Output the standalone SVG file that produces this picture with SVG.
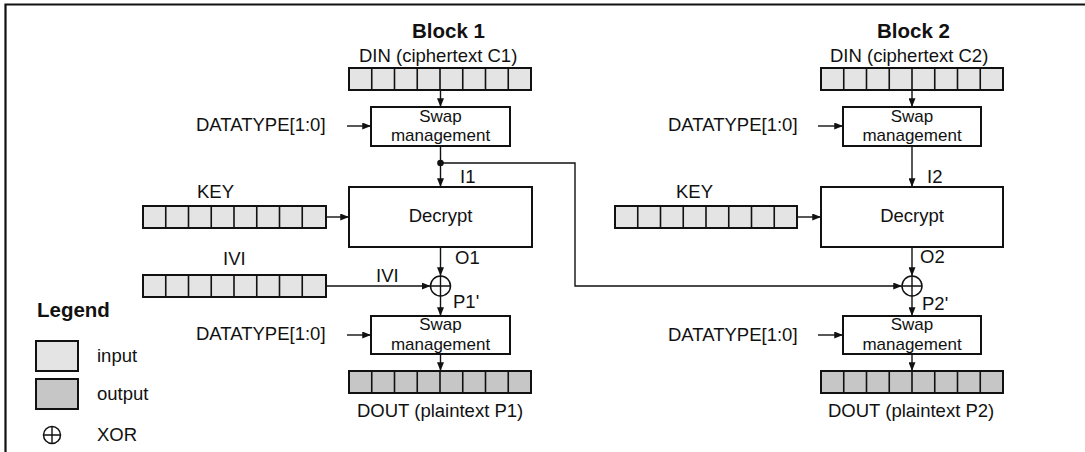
<svg xmlns="http://www.w3.org/2000/svg" xmlns:xlink="http://www.w3.org/1999/xlink" width="1085" height="452" viewBox="0 0 1085 452">
<style>
text{font-family:"Liberation Sans",Arial,sans-serif;font-size:18.5px;fill:#111}
.b{font-weight:bold;font-size:20.5px}
.m{text-anchor:middle}
.s{font-size:17px}
.box{fill:#fff;stroke:#111;stroke-width:2}
.in{fill:#e4e4e4;stroke:#111;stroke-width:2}
.out{fill:#c6c6c6;stroke:#111;stroke-width:2}
.div{stroke:#111;stroke-width:1.6}
.c{fill:none;stroke:#111;stroke-width:1.4}
.x{fill:#fff;stroke:#111;stroke-width:1.5}
</style>
<defs>
<marker id="ah" viewBox="0 0 10 8" refX="10" refY="4" markerWidth="9" markerHeight="7" orient="auto" markerUnits="userSpaceOnUse"><path d="M0,0 L10,4 L0,8 z" fill="#111"/></marker>
<g id="cells"><path class="div" d="M22.75,0V22M45.5,0V22M68.25,0V22M91,0V22M113.75,0V22M136.5,0V22M159.25,0V22"/></g>
</defs>
<rect width="1085" height="452" fill="#fff"/>
<path d="M5.5,452V4.5H1085" fill="none" stroke="#111" stroke-width="2.2"/>

<g id="connectors">
<path class="c" marker-end="url(#ah)" d="M440.5,90V107"/>
<path class="c" marker-end="url(#ah)" d="M347,126H371"/>
<path class="c" marker-end="url(#ah)" d="M440.5,146V187"/>
<path class="c" marker-end="url(#ah)" d="M440.5,163H575V286H902"/>
<circle cx="440.5" cy="163" r="3.3" fill="#111"/>
<path class="c" marker-end="url(#ah)" d="M326,217H349"/>
<path class="c" marker-end="url(#ah)" d="M440.5,247V276"/>
<path class="c" marker-end="url(#ah)" d="M326,286H430.5"/>
<path class="c" marker-end="url(#ah)" d="M440.5,296V316"/>
<path class="c" marker-end="url(#ah)" d="M347,335H371"/>
<path class="c" marker-end="url(#ah)" d="M440.5,354V371"/>

<path class="c" marker-end="url(#ah)" d="M912,90V107"/>
<path class="c" marker-end="url(#ah)" d="M818,126H843"/>
<path class="c" marker-end="url(#ah)" d="M912,146V187"/>
<path class="c" marker-end="url(#ah)" d="M797,217H821"/>
<path class="c" marker-end="url(#ah)" d="M912,247V276"/>
<path class="c" marker-end="url(#ah)" d="M912,296V316"/>
<path class="c" marker-end="url(#ah)" d="M818,335H843"/>
<path class="c" marker-end="url(#ah)" d="M912,354V371"/>
</g>

<g id="block1">
<text class="b" x="412" y="38">Block 1</text>
<text x="359" y="62">DIN (ciphertext C1)</text>
</g>
<g id="din1"><rect class="in" x="349" y="68" width="182" height="22"/><use xlink:href="#cells" x="349" y="68"/></g>
<g id="swap1a"><rect class="box" x="371" y="107" width="139" height="39"/><text class="m s" x="440.5" y="121.5">Swap</text><text class="m s" x="440.5" y="141">management</text></g>
<g id="dt1a"><text x="196" y="131">DATATYPE[1:0]</text></g>
<g id="i1"><text x="460" y="183">I1</text></g>
<g id="key1"><text x="197" y="198">KEY</text><rect class="in" x="143" y="206" width="183" height="22"/><use xlink:href="#cells" x="143" y="206"/></g>
<g id="dec1"><rect class="box" x="349" y="187" width="183" height="60"/><text class="m" x="440.5" y="222">Decrypt</text></g>
<g id="ivi1"><text x="223" y="265">IVI</text><rect class="in" x="143" y="275" width="183" height="22"/><use xlink:href="#cells" x="143" y="275"/><text x="376" y="282">IVI</text></g>
<g id="xor1"><circle class="x" cx="440.5" cy="286" r="10"/><path class="c" d="M430.5,286H450.5M440.5,276V296"/><text x="455" y="264">O1</text><text x="453" y="308">P1'</text></g>
<g id="swap1b"><rect class="box" x="371" y="316" width="139" height="38"/><text class="m s" x="440.5" y="330">Swap</text><text class="m s" x="440.5" y="349.5">management</text></g>
<g id="dt1b"><text x="196" y="340">DATATYPE[1:0]</text></g>
<g id="dout1"><rect class="out" x="349" y="371" width="182" height="22"/><use xlink:href="#cells" x="349" y="371"/><text x="357" y="417">DOUT (plaintext P1)</text></g>

<g id="block2">
<text class="b" x="877" y="38">Block 2</text>
<text x="830" y="62">DIN (ciphertext C2)</text>
</g>
<g id="din2"><rect class="in" x="821" y="68" width="182" height="22"/><use xlink:href="#cells" x="821" y="68"/></g>
<g id="swap2a"><rect class="box" x="843" y="107" width="138" height="39"/><text class="m s" x="912" y="121.5">Swap</text><text class="m s" x="912" y="141">management</text></g>
<g id="dt2a"><text x="668" y="131">DATATYPE[1:0]</text></g>
<g id="i2"><text x="927" y="183">I2</text></g>
<g id="key2"><text x="676" y="198">KEY</text><rect class="in" x="615" y="206" width="182" height="22"/><use xlink:href="#cells" x="615" y="206"/></g>
<g id="dec2"><rect class="box" x="821" y="187" width="182" height="60"/><text class="m" x="912" y="222">Decrypt</text></g>
<g id="xor2"><circle class="x" cx="912" cy="286" r="10"/><path class="c" d="M902,286H922M912,276V296"/><text x="920" y="263">O2</text><text x="922" y="310">P2'</text></g>
<g id="swap2b"><rect class="box" x="843" y="316" width="138" height="38"/><text class="m s" x="912" y="330">Swap</text><text class="m s" x="912" y="349.5">management</text></g>
<g id="dt2b"><text x="668" y="341">DATATYPE[1:0]</text></g>
<g id="dout2"><rect class="out" x="821" y="371" width="182" height="22"/><use xlink:href="#cells" x="821" y="371"/><text x="828" y="417">DOUT (plaintext P2)</text></g>

<g id="legend">
<text class="b" x="37" y="317">Legend</text>
<rect class="in" x="36" y="341" width="42" height="30"/><text x="97" y="362">input</text>
<rect class="out" x="36" y="379" width="42" height="30"/><text x="97" y="400">output</text>
<circle class="x" cx="52" cy="435" r="8.5"/><path class="c" d="M43.5,435H60.5M52,426.5V443.5"/><text x="97" y="441">XOR</text>
</g>
</svg>
